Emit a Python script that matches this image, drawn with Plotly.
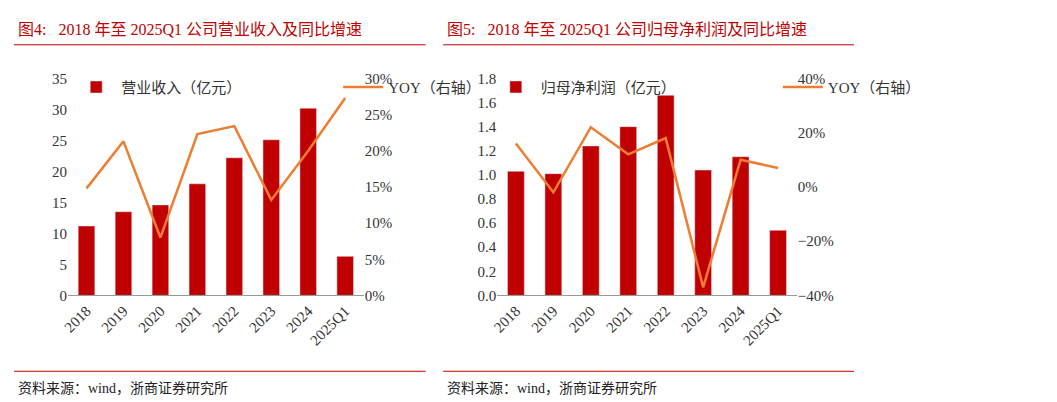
import plotly.graph_objects as go

years = ["2018", "2019", "2020", "2021", "2022", "2023", "2024", "2025Q1"]
revenue = [11.2, 13.5, 14.6, 18.0, 22.2, 25.1, 30.2, 6.3]
revenue_yoy = [14.8, 21.3, 8.0, 22.3, 23.4, 13.2, 20.0, 27.3]
profit = [1.03, 1.01, 1.24, 1.40, 1.66, 1.04, 1.15, 0.54]
profit_yoy = [16, -2, 22, 12, 18, -37, 10, 7]

RED = "#C00000"
ORANGE = "#ED7D31"
FONT = "Liberation Serif, Noto Sans CJK SC"
W, H = 1057, 402

def px(x): return x / W
def py(y): return 1 - y / H

fig = go.Figure()
fig.add_trace(go.Bar(x=years, y=revenue, name="营业收入（亿元）", marker_color=RED,
                     width=0.45, xaxis="x", yaxis="y", legend="legend"))
fig.add_trace(go.Scatter(x=years, y=revenue_yoy, name="YOY（右轴）", mode="lines",
                         line=dict(color=ORANGE, width=2.5), xaxis="x", yaxis="y2", legend="legend"))
fig.add_trace(go.Bar(x=years, y=profit, name="归母净利润（亿元）", marker_color=RED,
                     width=0.45, xaxis="x2", yaxis="y3", legend="legend2"))
fig.add_trace(go.Scatter(x=years, y=profit_yoy, name="YOY（右轴）", mode="lines",
                         line=dict(color=ORANGE, width=2.5), xaxis="x2", yaxis="y4", legend="legend2"))

ydom = [py(291), py(65)]
xd1 = [px(68), px(440)]
xd2 = [px(608), px(985)]
tick = dict(family=FONT, size=15, color="#333")
xcommon = dict(tickangle=-45, tickfont=tick, showline=True, linecolor="#999",
               ticks="", showgrid=False)
fig.update_layout(
    width=W, height=H, margin=dict(l=0, r=0, t=0, b=0),
    plot_bgcolor="white", paper_bgcolor="white",
    font=dict(family=FONT),
    xaxis=dict(domain=xd1, anchor="y", **xcommon),
    yaxis=dict(domain=ydom, range=[0, 35], dtick=5, tickfont=tick, showgrid=False,
               showline=False, zeroline=False),
    yaxis2=dict(overlaying="y", side="right", anchor="x", range=[0, 30], dtick=5,
                ticksuffix="%", tickfont=tick, showgrid=False, zeroline=False),
    xaxis2=dict(domain=xd2, anchor="y3", **xcommon),
    yaxis3=dict(domain=ydom, anchor="x2", range=[0, 1.8], dtick=0.2, tickformat=".1f",
                tickfont=tick, showgrid=False, zeroline=False),
    yaxis4=dict(overlaying="y3", side="right", anchor="x2", range=[-40, 40], dtick=20,
                ticksuffix="%", tickfont=tick, showgrid=False, zeroline=False),
    legend=dict(orientation="h", x=px(72), y=py(57), xanchor="left", yanchor="top",
                font=dict(family=FONT, size=15, color="#333"), bgcolor="rgba(0,0,0,0)",
                itemwidth=40, entrywidth=212),
    legend2=dict(orientation="h", x=px(600), y=py(57), xanchor="left", yanchor="top",
                 font=dict(family=FONT, size=15, color="#333"), bgcolor="rgba(0,0,0,0)",
                 itemwidth=40, entrywidth=232),
)

shapes = []
for x0, x1 in [(0, 518), (540, 1057)]:
    for y in (30, 370):
        shapes.append(dict(type="line", xref="paper", yref="paper", x0=px(x0), x1=px(x1),
                           y0=py(y), y1=py(y), line=dict(color=RED, width=1)))
fig.update_layout(shapes=shapes)

for x, t in [(2, "图4:   2018 年至 2025Q1 公司营业收入及同比增速"),
             (542, "图5:   2018 年至 2025Q1 公司归母净利润及同比增速")]:
    fig.add_annotation(text=t, x=px(x), y=py(14), xref="paper", yref="paper", xanchor="left",
                       yanchor="middle", showarrow=False, font=dict(family=FONT, size=16, color=RED))
for x in (2, 542):
    fig.add_annotation(text="资料来源：wind，浙商证券研究所", x=px(x), y=py(388), xref="paper",
                       yref="paper", xanchor="left", yanchor="middle", showarrow=False,
                       font=dict(family=FONT, size=14, color="#222"))

fig.write_html("out.html")
